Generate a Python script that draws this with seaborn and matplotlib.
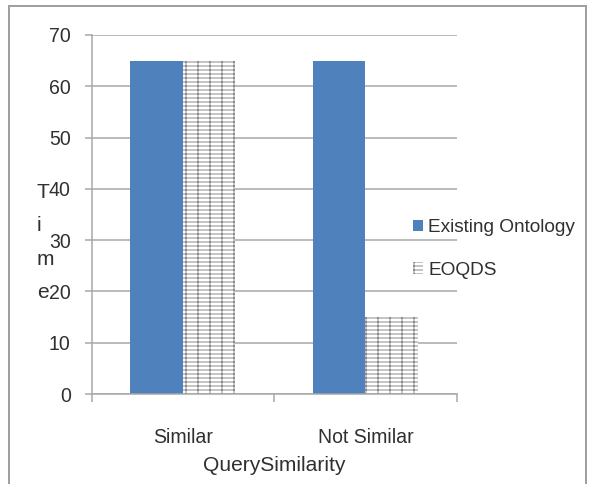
import matplotlib
matplotlib.use("Agg")
import matplotlib.pyplot as plt
import seaborn as sns
import pandas as pd
from matplotlib.patches import Rectangle
from matplotlib.ticker import FixedLocator

# Query time for the two ontology approaches
categories = ["Similar", "Not Similar"]
methods = ["Existing Ontology", "EOQDS"]
existing_ontology = [65, 65]
eoqds = [65, 15]
y_ticks = [0, 10, 20, 30, 40, 50, 60, 70]

df = pd.DataFrame({
    "QuerySimilarity": categories * 2,
    "Time": existing_ontology + eoqds,
    "Method": [methods[0]] * len(categories) + [methods[1]] * len(categories),
})

DPI = 72
W, H = 589, 484
BLUE = "#4f81bd"
GRID = "#a6a6a6"
TEXT = "#303030"

sns.set_theme(style="white")
plt.rcParams["font.family"] = ["Liberation Sans", "DejaVu Sans"]
plt.rcParams["hatch.linewidth"] = 1.0
plt.rcParams["hatch.color"] = "#8c8c8c"

fig = plt.figure(figsize=(W / DPI, H / DPI), dpi=DPI)
ax = fig.add_axes([91.7 / W, 1 - 394 / H, 365 / W, 359 / H])

sns.barplot(
    data=df, x="QuerySimilarity", y="Time", hue="Method",
    order=categories, hue_order=methods,
    palette=[BLUE, "white"], saturation=1, width=0.575, gap=0,
    linewidth=0, legend=False, ax=ax,
)

# grid-patterned fill for the EOQDS bars
for bar in ax.containers[1]:
    bar.set_hatch("---|")
    bar.set_edgecolor("#8c8c8c")
    bar.set_linewidth(0)

ax.set_xlim(-0.5, 1.5)
ax.set_ylim(0, 70)
ax.set_yticks(y_ticks)
ax.yaxis.grid(True, color=GRID, linewidth=1.5)
ax.xaxis.grid(False)
ax.set_axisbelow(True)

for side in ("top", "right"):
    ax.spines[side].set_visible(False)
for side in ("left", "bottom"):
    ax.spines[side].set_color(GRID)
    ax.spines[side].set_linewidth(1.5)

ax.tick_params(axis="y", length=7, width=1.5, color=GRID, pad=14,
               labelsize=19.5, labelcolor=TEXT, left=True)
ax.tick_params(axis="x", which="major", length=0, pad=34,
               labelsize=19.5, labelcolor=TEXT)
ax.xaxis.set_minor_locator(FixedLocator([-0.5, 0.5, 1.5]))
ax.tick_params(axis="x", which="minor", length=8, width=1.5, color=GRID,
               direction="out", bottom=True)

ax.set_xlabel("QuerySimilarity", fontsize=21, color=TEXT, labelpad=9)
ax.set_ylabel("T\ni\nm\ne", rotation=0, fontsize=21, color=TEXT,
              linespacing=1.95, ha="left", va="center", multialignment="left")
ax.yaxis.set_label_coords(-0.150, 0.422)

handles = [ax.containers[0].patches[0], ax.containers[1].patches[0]]
ax.legend(
    handles, methods, loc="center left",
    bbox_to_anchor=(413 / W, 1 - 249 / H), bbox_transform=fig.transFigure,
    frameon=False, fontsize=19, labelcolor=TEXT,
    handlelength=0.55, handleheight=0.55, handletextpad=0.25,
    labelspacing=1.35, borderpad=0, borderaxespad=0,
)

# outer frame around the chart area
fig.add_artist(Rectangle((9 / W, -0.05), (586 - 9) / W, (H - 6) / H + 0.05,
                         transform=fig.transFigure, fill=False,
                         edgecolor="#a0a0a0", linewidth=2))

fig.savefig("out.png", dpi=DPI)
